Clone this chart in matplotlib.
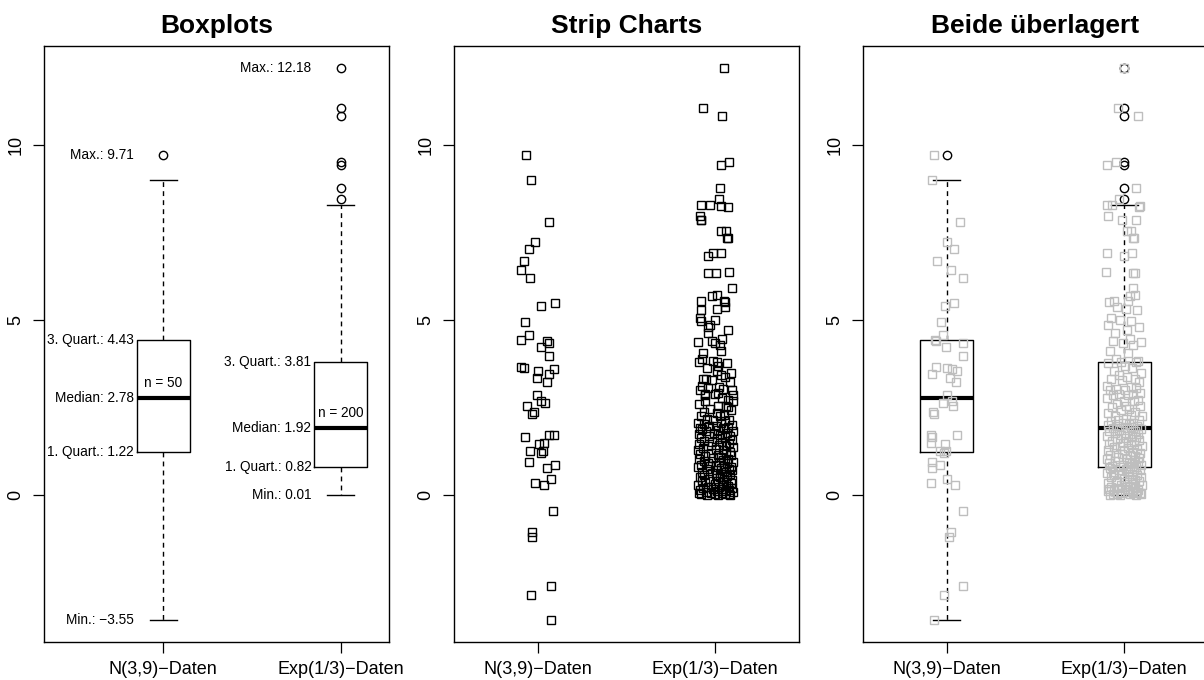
import matplotlib

matplotlib.use("Agg")
import matplotlib.pyplot as plt
import numpy as np

plt.rcParams["font.family"] = ["Liberation Sans", "DejaVu Sans"]

# --- data ------------------------------------------------------------------
categories = ["N(3,9)\u2212Daten", "Exp(1/3)\u2212Daten"]
titles = ["Boxplots", "Strip Charts", "Beide überlagert"]

norm_values = [
    9.71, 8.99, 7.78, 7.21, 7.03, 6.69, 6.43, 6.21, 5.41, 5.49,
    4.95, 4.44, 4.57, 4.39, 4.22, 4.33, 3.97, 3.65, 3.62, 3.55,
    3.60, 3.36, 3.46, 3.23, 2.87, 2.69, 2.62, 2.54, 2.38, 2.31,
    1.67, 1.71, 1.73, 1.46, 1.48, 1.27, 1.21, 1.26, 0.96, 0.86,
    0.78, 0.35, 0.31, 0.46, -0.45, -1.05, -1.19, -2.59, -2.83, -3.55,
]

exp_values = [
    12.18, 11.05, 10.81, 9.49, 9.41, 8.76, 8.45, 8.29, 8.28, 8.26,
    8.21, 7.95, 7.85, 7.84, 7.55, 7.54, 7.35, 7.34, 6.92, 6.91,
    6.81, 6.36, 6.35, 6.33, 5.90, 5.71, 5.69, 5.55, 5.54, 5.52,
    5.38, 5.30, 5.29, 5.05, 5.00, 4.97, 4.86, 4.79, 4.71, 4.62,
    4.45, 4.41, 4.38, 4.35, 4.29, 4.12, 4.05, 3.88, 3.84, 3.81,
    3.81, 3.76, 3.69, 3.62, 3.55, 3.49, 3.43, 3.38, 3.33, 3.31,
    3.29, 3.22, 3.13, 3.08, 3.05, 3.02, 3.01, 3.00, 2.93, 2.90,
    2.88, 2.86, 2.85, 2.77, 2.71, 2.70, 2.68, 2.60, 2.55, 2.54,
    2.53, 2.46, 2.43, 2.37, 2.36, 2.30, 2.26, 2.25, 2.19, 2.16,
    2.15, 2.11, 2.07, 2.06, 2.03, 2.01, 1.99, 1.98, 1.95, 1.93,
    1.91, 1.90, 1.87, 1.84, 1.83, 1.79, 1.78, 1.75, 1.73, 1.70,
    1.69, 1.65, 1.64, 1.60, 1.58, 1.56, 1.53, 1.51, 1.50, 1.46,
    1.44, 1.41, 1.40, 1.37, 1.34, 1.32, 1.29, 1.28, 1.25, 1.22,
    1.21, 1.18, 1.15, 1.14, 1.11, 1.09, 1.07, 1.04, 1.03, 1.00,
    0.99, 0.96, 0.95, 0.92, 0.91, 0.88, 0.87, 0.85, 0.83, 0.82,
    0.81, 0.79, 0.76, 0.75, 0.72, 0.71, 0.68, 0.67, 0.65, 0.62,
    0.61, 0.58, 0.57, 0.55, 0.52, 0.51, 0.48, 0.47, 0.45, 0.42,
    0.41, 0.38, 0.37, 0.35, 0.33, 0.30, 0.29, 0.27, 0.25, 0.24,
    0.22, 0.20, 0.19, 0.17, 0.16, 0.14, 0.13, 0.12, 0.10, 0.09,
    0.08, 0.07, 0.06, 0.05, 0.05, 0.04, 0.03, 0.02, 0.02, 0.01,
]

# horizontal jitter of the strip chart points (group units)
norm_jitter_strip = [
    -0.069, -0.039, 0.064, -0.015, -0.047, -0.075, -0.096, -0.043, 0.019, 0.099,
    -0.071, -0.096, -0.047, 0.051, 0.021, 0.062, 0.066, -0.097, -0.080, 0.002,
    0.094, -0.006, 0.062, 0.054, -0.006, 0.021, 0.042, -0.063, -0.022, -0.035,
    -0.073, 0.066, 0.092, 0.006, 0.034, -0.041, 0.017, 0.028, -0.052, 0.096,
    0.054, -0.017, 0.036, 0.075, 0.088, -0.031, -0.031, 0.073, -0.037, 0.075,
]
exp_jitter_strip = [
    0.049, -0.067, 0.039, 0.077, 0.030, 0.028, 0.021, -0.080, -0.030, 0.030,
    0.070, -0.088, -0.078, -0.082, 0.058, 0.030, 0.066, 0.072, -0.011, 0.030,
    -0.039, 0.077, -0.039, 0.002, 0.096, 0.008, -0.020, -0.082, 0.051, 0.055,
    0.055, 0.011, -0.082, -0.085, -0.001, -0.082, -0.030, -0.039, 0.070, -0.039,
    0.040, -0.017, -0.099, -0.003, 0.026, 0.030, -0.071, -0.077, -0.011, 0.011,
    -0.089, 0.064, 0.018, -0.047, 0.008, 0.091, 0.032, 0.055, -0.068, -0.050,
    -0.020, 0.083, -0.074, 0.022, -0.039, 0.045, 0.092, -0.085, 0.013, -0.058,
    0.001, 0.101, -0.058, 0.037, 0.070, 0.099, -0.058, -0.093, 0.061, 0.017,
    0.070, -0.027, 0.088, -0.066, 0.009, 0.048, -0.081, 0.026, -0.045, 0.079,
    -0.012, 0.057, -0.098, 0.034, -0.063, 0.096, 0.005, -0.036, 0.072, -0.087,
    0.041, -0.074, 0.018, 0.099, -0.052, -0.006, 0.067, -0.094, 0.029, 0.085,
    -0.033, 0.053, -0.079, 0.012, 0.094, -0.061, 0.038, -0.016, 0.077, -0.090,
    0.024, 0.062, -0.043, 0.101, -0.070, 0.003, 0.046, -0.097, 0.081, -0.025,
    0.059, -0.084, 0.016, 0.090, -0.055, 0.035, -0.010, 0.073, -0.091, 0.044,
    -0.066, 0.020, 0.098, -0.038, 0.064, -0.081, 0.007, 0.052, -0.029, 0.087,
    -0.095, 0.031, 0.076, -0.048, 0.011, 0.093, -0.072, 0.058, -0.019, 0.040,
    0.083, -0.062, 0.004, 0.069, -0.088, 0.027, 0.050, -0.034, 0.097, -0.076,
    0.015, 0.060, -0.057, 0.089, -0.003, 0.036, -0.099, 0.071, -0.041, 0.022,
    0.095, -0.069, 0.046, -0.014, 0.080, -0.086, 0.009, 0.063, -0.051, 0.102,
    -0.024, 0.039, -0.092, 0.075, 0.000, 0.055, -0.078, 0.086, -0.044, 0.018,
]

# jitter of the grey points in the overlay panel
norm_jitter_overlay = [
    -0.073, -0.084, 0.077, 0.000, 0.043, -0.054, 0.025, 0.094, -0.009, 0.043,
    -0.035, -0.069, -0.020, -0.062, -0.003, 0.090, 0.094, -0.060, 0.000, 0.056,
    0.028, 0.020, -0.084, 0.050, 0.000, 0.030, -0.020, 0.037, -0.075, -0.073,
    -0.085, -0.090, 0.056, -0.009, -0.088, -0.003, -0.015, -0.040, -0.085, -0.040,
    -0.085, -0.090, 0.046, 0.002, 0.090, 0.025, 0.011, 0.092, -0.017, -0.073,
]
exp_jitter_overlay = [
    0.000, -0.034, 0.077, -0.045, -0.096, 0.064, -0.030, -0.096, -0.067, 0.088,
    0.086, -0.090, 0.064, -0.015, 0.013, 0.040, 0.048, 0.055, -0.096, 0.045,
    -0.002, -0.100, 0.050, 0.060, 0.050, 0.060, 0.030, -0.060, 0.020, -0.085,
    -0.040, 0.010, 0.070, -0.075, -0.025, 0.040, -0.090, 0.085, 0.015, -0.050,
    0.032, -0.066, 0.094, -0.008, 0.051, -0.083, 0.022, -0.047, 0.079, -0.019,
    0.065, -0.092, 0.006, 0.043, -0.058, 0.097, -0.031, 0.017, -0.074, 0.058,
    -0.012, 0.084, -0.097, 0.036, 0.069, -0.045, 0.003, -0.081, 0.091, -0.027,
    0.047, -0.063, 0.021, -0.099, 0.075, -0.004, 0.056, -0.038, 0.012, 0.088,
    -0.070, 0.029, -0.016, 0.063, -0.089, 0.040, 0.098, -0.053, 0.008, -0.035,
    0.081, -0.077, 0.052, -0.009, 0.026, -0.094, 0.071, -0.042, 0.037, -0.061,
    0.015, 0.093, -0.028, -0.086, 0.059, 0.004, -0.051, 0.078, -0.018, 0.044,
    -0.096, 0.067, 0.010, -0.040, 0.086, -0.071, 0.024, 0.053, -0.007, -0.084,
    0.038, -0.022, 0.100, -0.060, 0.019, 0.072, -0.091, 0.001, 0.049, -0.046,
    0.090, -0.013, -0.079, 0.033, 0.061, -0.036, 0.083, -0.098, 0.014, 0.057,
    -0.052, 0.025, 0.076, -0.088, 0.042, -0.005, 0.095, -0.067, 0.030, -0.023,
    0.068, -0.082, 0.011, 0.054, -0.030, 0.087, -0.063, 0.020, -0.095, 0.046,
    -0.010, 0.074, -0.056, 0.028, 0.092, -0.076, 0.041, -0.001, 0.062, -0.039,
    0.085, -0.048, 0.016, -0.090, 0.050, 0.099, -0.020, 0.035, -0.072, 0.007,
    -0.033, 0.060, -0.085, 0.023, 0.079, -0.058, 0.045, -0.094, 0.013, 0.070,
    0.052, -0.015, 0.089, -0.066, 0.031, -0.043, 0.096, -0.025, 0.064, -0.080,
]

# --- figure -----------------------------------------------------------------
W, H = 1204, 680
fig = plt.figure(figsize=(W / 100, H / 100), dpi=100)


def add_panel(left_px):
    return fig.add_axes([left_px / W, (H - 642) / H, 345 / W, 596 / H])


groups = [np.array(norm_values), np.array(exp_values)]
positions = [1, 2]
all_vals = np.concatenate(groups)
span = all_vals.max() - all_vals.min()
ylim = (all_vals.min() - 0.04 * span, all_vals.max() + 0.04 * span)

box_kw = dict(
    positions=positions,
    widths=0.3,
    whis=1.5,
    capwidths=0.15,
    boxprops=dict(color="black", linewidth=1.0),
    whiskerprops=dict(color="black", linewidth=1.0, linestyle=(0, (3.5, 3))),
    capprops=dict(color="black", linewidth=1.0),
    medianprops=dict(color="black", linewidth=3.0, solid_capstyle="butt"),
    flierprops=dict(marker="o", markerfacecolor="none", markeredgecolor="black",
                    markersize=6, markeredgewidth=1.0),
)


def style(ax, xlim, title):
    ax.set_xlim(*xlim)
    ax.set_ylim(*ylim)
    ax.set_xticks(positions)
    ax.set_xticklabels(categories)
    ax.set_yticks([0, 5, 10])
    ax.set_yticklabels(["0", "5", "10"], rotation=90, va="center")
    ax.tick_params(length=8, width=0.9, pad=6, labelsize=13)
    for spine in ax.spines.values():
        spine.set_linewidth(1.0)
    ax.set_title(title, fontsize=19, fontweight="bold", pad=9)


def fmt(v):
    return f"{v:.2f}".replace("-", "\u2212")


# panel 1: boxplots with summary labels
ax1 = add_panel(44)
ax1.boxplot(groups, **box_kw)
for pos, vals in zip(positions, groups):
    q1, med, q3 = np.percentile(vals, [25, 50, 75])
    labels = [
        ("Max.: ", vals.max()),
        ("3. Quart.: ", q3),
        ("Median: ", med),
        ("1. Quart.: ", q1),
        ("Min.: ", vals.min()),
    ]
    for name, v in labels:
        ax1.annotate(name + fmt(v), (pos - 0.15, v), xytext=(-2, 0),
                     textcoords="offset points", ha="right", va="center",
                     fontsize=9.8)
    ax1.annotate(f"n = {len(vals)}", (pos, med), xytext=(0, 11),
                 textcoords="offset points", ha="center", va="center",
                 fontsize=9.8)
style(ax1, (0.328, 2.272), titles[0])

# panel 2: strip charts
ax2 = add_panel(454)
for pos, vals, jit in zip(positions, groups, [norm_jitter_strip, exp_jitter_strip]):
    ax2.plot(pos + np.array(jit), vals, linestyle="none", marker="s",
             markersize=6, markerfacecolor="none", markeredgecolor="black",
             markeredgewidth=1.0)
style(ax2, (0.528, 2.472), titles[1])

# panel 3: both overlaid
ax3 = add_panel(863)
ax3.boxplot(groups, **box_kw)
for pos, vals, jit in zip(positions, groups, [norm_jitter_overlay, exp_jitter_overlay]):
    ax3.plot(pos + np.array(jit), vals, linestyle="none", marker="s",
             markersize=6, markerfacecolor="none", markeredgecolor="#bebebe",
             markeredgewidth=1.0, zorder=3)
style(ax3, (0.528, 2.472), titles[2])

fig.savefig("out.png", dpi=100)
plt.close(fig)
